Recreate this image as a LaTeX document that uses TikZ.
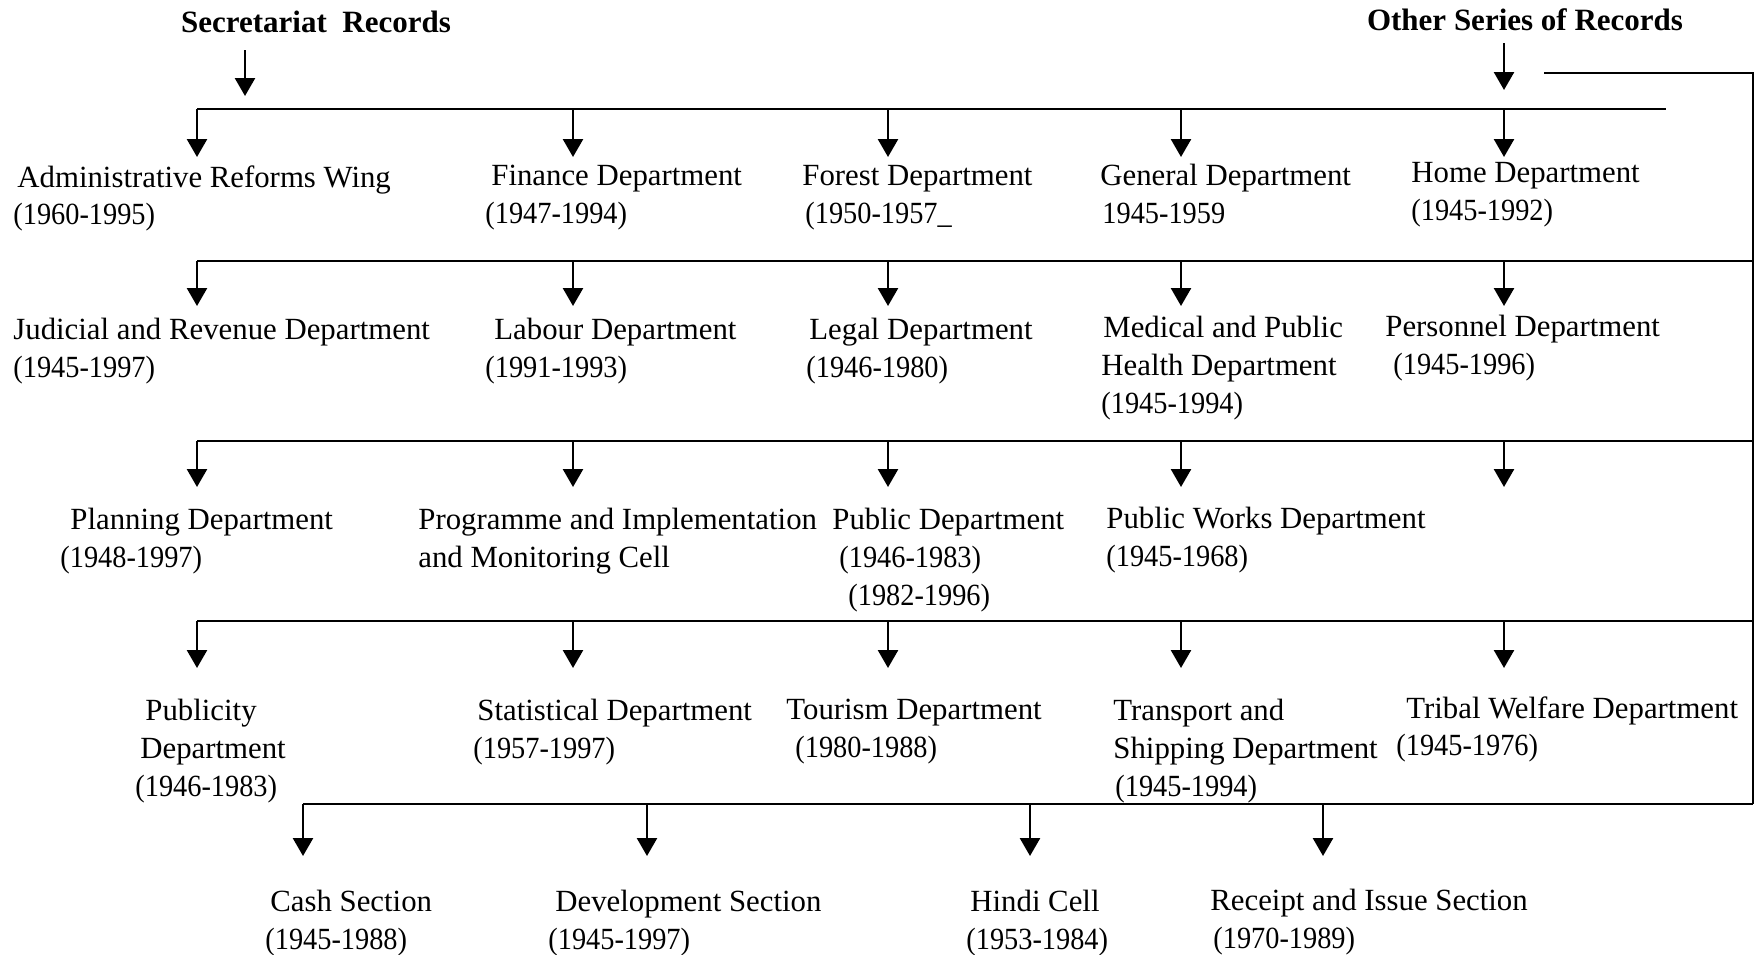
\documentclass[tikz,border=0pt]{standalone}
\usepackage{fontspec}
\setmainfont{Liberation Serif}
\newfontfamily\df[FakeStretch=0.92]{Liberation Serif}
\usetikzlibrary{arrows.meta}
\begin{document}
\begin{tikzpicture}[x=0.5pt,y=-0.5pt,
  lbl/.style={anchor=north west,inner sep=0pt,align=left,font=\fontsize{15.4}{18.9}\selectfont},
  ttl/.style={inner sep=0pt,font=\fontsize{15.5}{18.8}\selectfont\bfseries},
  bar/.style={line width=1.3pt,line join=miter},
  arr/.style={line width=1.3pt,-{Triangle[length=9pt,width=10pt]}}]
\useasboundingbox (0,0) rectangle (1761,954);

% titles
\node[ttl] (sec) at (316,22) {Secretariat\ \ Records};
\node[ttl] (oth) at (1525,20) {Other Series of Records};
\coordinate (seca) at (245,50);
\coordinate (secb) at (245,96);
\coordinate (otha) at (1504,43);
\coordinate (othb) at (1504,90);
\draw[arr] (seca) -- (secb);
\draw[arr] (otha) -- (othb);

% bars
\coordinate (b1l) at (197,109);  \coordinate (b1r) at (1666,109);
\coordinate (b2l) at (197,261);  \coordinate (b2r) at (1753,261);
\coordinate (b3l) at (197,441);  \coordinate (b3r) at (1753,441);
\coordinate (b4l) at (197,621);  \coordinate (b4r) at (1753,621);
\coordinate (b5l) at (303,804);  \coordinate (b5r) at (1753,804);
\coordinate (fa) at (1544,73);   \coordinate (fb) at (1753,73);
\draw[bar] (b1l) -- (b1r);
\draw[bar] (b2l) -- (b2r);
\draw[bar] (b3l) -- (b3r);
\draw[bar] (b4l) -- (b4r);
\draw[bar] (b5l) -- (b5r);
\draw[bar] (fa) -- (fb) -- (b5r);

% arrows rows 1-4
\foreach \r/\y/\t in {1/109/157, 2/261/306, 3/441/487, 4/621/668} {
  \foreach \c/\x in {1/197,2/573,3/888,4/1181,5/1504} {
    \coordinate (s\r\c) at (\x,\y);
    \coordinate (e\r\c) at (\x,\t);
    \draw[arr] (s\r\c) -- (e\r\c);
  }
}
% arrows row 5
\foreach \c/\x in {1/303,2/647,3/1030,4/1323} {
  \coordinate (s5\c) at (\x,804);
  \coordinate (e5\c) at (\x,856);
  \draw[arr] (s5\c) -- (e5\c);
}

% row 1
\node[lbl] (n11) at (13,165) {\hspace*{2pt}Administrative Reforms Wing\\{\df (1960-1995)}};
\node[lbl] (n12) at (485,165) {\hspace*{3pt}Finance Department\\{\df (1947-1994)}};
\node[lbl] (n13) at (802,165) {Forest Department\\\hspace*{1.5pt}{\df (1950-1957\_}};
\node[lbl] (n14) at (1100,164) {General Department\\\hspace*{1pt}{\df 1945-1959}};
\node[lbl] (n15) at (1411,162) {Home Department\\{\df (1945-1992)}};

% row 2
\node[lbl] (n21) at (13,318) {Judicial and Revenue Department\\{\df (1945-1997)}};
\node[lbl] (n22) at (485,318) {\hspace*{4.5pt}Labour Department\\{\df (1991-1993)}};
\node[lbl] (n23) at (806,318) {\hspace*{1.5pt}Legal Department\\{\df (1946-1980)}};
\node[lbl] (n24) at (1101,316) {\hspace*{1pt}Medical and Public\\Health Department\\{\df (1945-1994)}};
\node[lbl] (n25) at (1385,315) {Personnel Department\\\hspace*{4pt}{\df (1945-1996)}};

% row 3
\node[lbl] (n31) at (60,508) {\hspace*{5pt}Planning Department\\{\df (1948-1997)}};
\node[lbl] (n32) at (418,508) {Programme and Implementation\\and Monitoring Cell};
\node[lbl] (n33) at (832,508) {Public Department\\\hspace*{3.5pt}{\df (1946-1983)}\\\hspace*{8pt}{\df (1982-1996)}};
\node[lbl] (n34) at (1106,507) {Public Works Department\\{\df (1945-1968)}};

% row 4
\node[lbl] (n41) at (135,699) {\hspace*{5pt}Publicity\\\hspace*{2.5pt}Department\\{\df (1946-1983)}};
\node[lbl] (n42) at (473,699) {\hspace*{2pt}Statistical Department\\{\df (1957-1997)}};
\node[lbl] (n43) at (786,699) {Tourism Department\\\hspace*{4.5pt}{\df (1980-1988)}};
\node[lbl] (n44) at (1113,699) {Transport and\\Shipping Department\\\hspace*{1pt}{\df (1945-1994)}};
\node[lbl] (n45) at (1396,696) {\hspace*{5pt}Tribal Welfare Department\\{\df (1945-1976)}};

% row 5
\node[lbl] (n51) at (265,890) {\hspace*{2.5pt}Cash Section\\{\df (1945-1988)}};
\node[lbl] (n52) at (548,890) {\hspace*{3.5pt}Development Section\\{\df (1945-1997)}};
\node[lbl] (n53) at (966,890) {\hspace*{2pt}Hindi Cell\\{\df (1953-1984)}};
\node[lbl] (n54) at (1210,889) {Receipt and Issue Section\\\hspace*{1.5pt}{\df (1970-1989)}};
\end{tikzpicture}
\end{document}
